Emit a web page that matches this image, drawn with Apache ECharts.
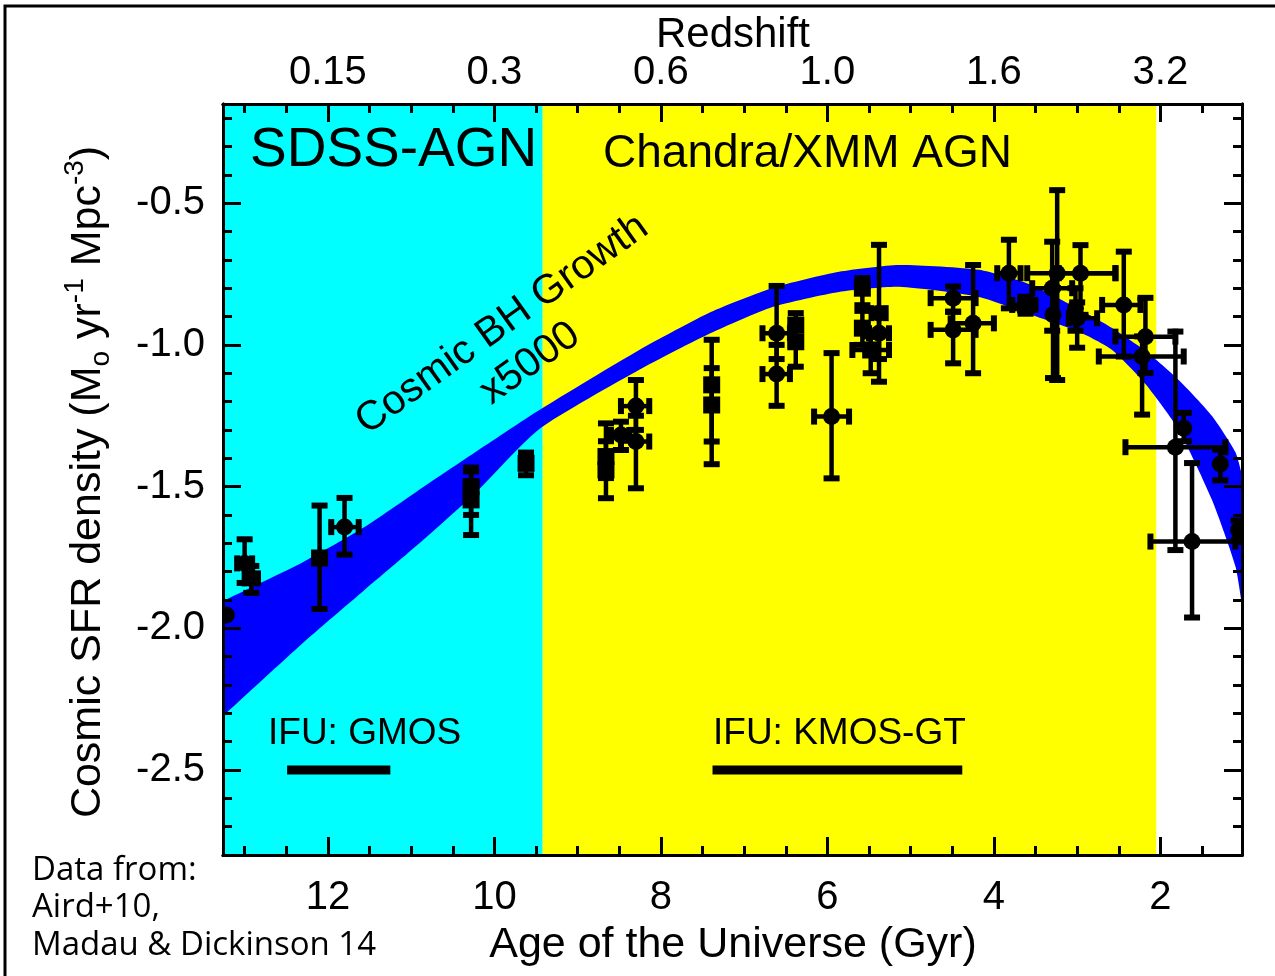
<!DOCTYPE html>
<html>
<head>
<meta charset="utf-8">
<script src="https://cdn.jsdelivr.net/npm/echarts@6/dist/echarts.min.js"></script>
<style>
html,body{margin:0;padding:0;background:#fff;}
#chart{width:1275px;height:976px;}
</style>
</head>
<body>
<div id="chart"></div>
<script>
// ---------------- DATA ----------------
// Axis ranges (age of the Universe, Gyr; log SFR density)
const ageRange = [1.02, 13.26];
const valRange = [-2.8, -0.15];
// tick labels
const ageTicks = [12, 10, 8, 6, 4, 2];
const redshiftLabels = ['0.15', '0.3', '0.6', '1.0', '1.6', '3.2'];
const valTicks = [-2.5, -2.0, -1.5, -1.0, -0.5];
// survey regions (age edges)
const sdssRegion = [13.26, 9.42];
const chandraRegion = [9.42, 2.05];
// Cosmic BH growth band (x5000); first and last entries continue just past the frame
const bandAge   = [13.50, 13.26, 12.30, 11.56, 10.94, 10.24, 9.46, 8.26, 7.40, 6.66, 5.86, 5.14, 4.18, 3.58, 2.98, 2.58, 2.18, 1.78, 1.38, 1.10, 1.02, 0.96];
const bandUpper = [-1.938, -1.904, -1.767, -1.643, -1.519, -1.381, -1.230, -1.018, -0.884, -0.799, -0.742, -0.718, -0.735, -0.785, -0.873, -0.940, -1.021, -1.124, -1.251, -1.378, -1.459, -1.530];
const bandLower = [-2.376, -2.310, -2.052, -1.865, -1.710, -1.526, -1.297, -1.088, -0.958, -0.866, -0.813, -0.795, -0.831, -0.891, -0.954, -1.018, -1.138, -1.300, -1.547, -1.780, -1.917, -2.030];
// SFR density points: [age, value, ageLeft, ageRight, valueLow, valueHigh]
const sfrCircles = [
  [13.22, -1.953, 13.22, 13.22, -1.953, -1.953],
  [13.00, -1.771, 13.09, 12.91, -1.840, -1.686],
  [12.92, -1.824, 13.00, 12.84, -1.875, -1.780],
  [11.80, -1.643, 11.96, 11.63, -1.740, -1.540],
  [8.48, -1.318, 8.60, 8.38, -1.371, -1.271],
  [8.30, -1.216, 8.48, 8.14, -1.300, -1.124],
  [8.30, -1.341, 8.48, 8.14, -1.506, -1.250],
  [6.61, -0.959, 6.78, 6.45, -1.050, -0.792],
  [6.61, -1.103, 6.78, 6.45, -1.215, -1.000],
  [5.95, -1.253, 6.16, 5.74, -1.471, -1.029],
  [5.38, -0.888, 5.47, 5.30, -1.130, -0.647],
  [5.38, -0.959, 5.50, 5.26, -1.050, -0.900],
  [4.49, -0.835, 4.76, 4.22, -0.883, -0.794],
  [4.49, -0.947, 4.76, 4.22, -1.065, -0.883],
  [4.25, -0.924, 4.52, 4.00, -1.100, -0.718],
  [3.82, -0.747, 3.96, 3.68, -0.871, -0.629],
  [3.24, -0.747, 3.60, 2.54, -1.124, -0.454],
  [3.30, -0.800, 3.54, 3.06, -0.950, -0.636],
  [3.29, -0.894, 3.29, 3.29, -1.117, -0.800],
  [2.96, -0.747, 3.22, 2.54, -0.894, -0.648],
  [3.02, -0.871, 3.02, 3.02, -0.950, -0.800],
  [3.00, -0.906, 3.10, 2.76, -1.010, -0.850],
  [2.44, -0.859, 2.70, 2.24, -1.041, -0.671],
  [2.18, -0.971, 2.54, 1.82, -1.099, -0.834],
  [2.22, -1.041, 2.74, 1.72, -1.246, -0.970],
  [1.72, -1.294, 1.72, 1.72, -1.340, -1.240],
  [1.82, -1.361, 2.42, 1.22, -1.724, -0.953],
  [1.62, -1.694, 2.12, 1.10, -1.962, -1.417],
  [1.28, -1.420, 1.28, 1.28, -1.478, -1.370],
  [1.06, -1.653, 1.06, 1.06, -1.690, -1.620]
];
const sfrSquares = [
  [12.10, -1.752, 12.10, 12.10, -1.932, -1.567],
  [10.28, -1.500, 10.28, 10.28, -1.600, -1.433],
  [10.28, -1.547, 10.28, 10.28, -1.671, -1.447],
  [9.62, -1.418, 9.62, 9.62, -1.460, -1.380],
  [8.66, -1.394, 8.66, 8.66, -1.470, -1.277],
  [8.66, -1.441, 8.66, 8.66, -1.541, -1.340],
  [7.39, -1.141, 7.39, 7.39, -1.341, -0.982],
  [7.39, -1.212, 7.39, 7.39, -1.421, -1.082],
  [6.38, -0.930, 6.38, 6.38, -1.000, -0.888],
  [6.38, -0.989, 6.38, 6.38, -1.077, -0.930],
  [5.58, -0.800, 5.58, 5.58, -0.860, -0.764],
  [5.58, -0.941, 5.58, 5.58, -1.000, -0.880],
  [5.48, -1.018, 5.70, 5.26, -1.100, -0.970],
  [3.62, -0.859, 3.78, 3.50, -0.890, -0.830]
];
// IFU coverage bars
const ifuLevel = -2.5;
const gmosAges = [12.49, 11.25];
const kmosAges = [7.38, 4.38];

// ---------------- CHART ----------------
const FONT = '"Liberation Sans", Arial, Helvetica, sans-serif';
const ageMinor = [];
for (let i = 3; i <= 26; i++) ageMinor.push(i * 0.5);
const valMinor = [];
for (let i = -27; i <= -2; i++) valMinor.push(+(i * 0.1).toFixed(1));

function xAxisDef(pos, ticks, len, labels) {
  return {
    type: 'value', position: pos, min: ageRange[0], max: ageRange[1], inverse: true, z: 5,
    axisLine: {show: true, onZero: false, lineStyle: {color: '#000', width: 3}},
    axisTick: {show: true, inside: true, length: len, customValues: ticks, lineStyle: {color: '#000', width: 3}},
    axisLabel: labels ? Object.assign({show: true, customValues: ageTicks, color: '#000', fontFamily: FONT, fontSize: 40}, labels) : {show: false},
    splitLine: {show: false}
  };
}
function yAxisDef(pos, ticks, len, labels) {
  return {
    type: 'value', position: pos, min: valRange[0], max: valRange[1], z: 5,
    axisLine: {show: true, onZero: false, lineStyle: {color: '#000', width: 3}},
    axisTick: {show: true, inside: true, length: len, customValues: ticks, lineStyle: {color: '#000', width: 3}},
    axisLabel: labels ? Object.assign({show: true, customValues: valTicks, color: '#000', fontFamily: FONT, fontSize: 40}, labels) : {show: false},
    splitLine: {show: false}
  };
}

function renderPoint(isSquare) {
  return function (params, api) {
    const age = api.value(0), v = api.value(1);
    const aL = api.value(2), aR = api.value(3), lo = api.value(4), hi = api.value(5);
    const c = api.coord([age, v]);
    const ch = [];
    const ln = {stroke: '#000', lineWidth: 4.5};
    const cap = {fill: '#000'};
    const pHi = api.coord([age, hi]), pLo = api.coord([age, lo]);
    if (Math.abs(pHi[1] - pLo[1]) > 1) {
      ch.push({type: 'line', shape: {x1: c[0], y1: pHi[1], x2: c[0], y2: pLo[1]}, style: ln});
      ch.push({type: 'rect', shape: {x: c[0] - 8, y: pHi[1] - 3, width: 16, height: 6}, style: cap});
      ch.push({type: 'rect', shape: {x: c[0] - 8, y: pLo[1] - 3, width: 16, height: 6}, style: cap});
    }
    const pL = api.coord([aL, v]), pR = api.coord([aR, v]);
    if (Math.abs(pL[0] - pR[0]) > 1) {
      ch.push({type: 'line', shape: {x1: pL[0], y1: c[1], x2: pR[0], y2: c[1]}, style: ln});
      ch.push({type: 'rect', shape: {x: pL[0] - 3, y: c[1] - 8, width: 6, height: 16}, style: cap});
      ch.push({type: 'rect', shape: {x: pR[0] - 3, y: c[1] - 8, width: 6, height: 16}, style: cap});
    }
    if (isSquare) {
      ch.push({type: 'rect', shape: {x: c[0] - 8.5, y: c[1] - 8.5, width: 17, height: 17}, style: {fill: '#000'}});
    } else {
      ch.push({type: 'circle', shape: {cx: c[0], cy: c[1], r: 8.5}, style: {fill: '#000'}});
    }
    return {type: 'group', children: ch};
  };
}

const chart = echarts.init(document.getElementById('chart'), null, {renderer: 'canvas'});
const option = {
  backgroundColor: '#fff',
  animation: false,
  grid: {left: 223, right: 33, top: 104, bottom: 121, containLabel: false},
  xAxis: [
    xAxisDef('bottom', ageTicks, 18, {margin: 23}),
    xAxisDef('bottom', ageMinor, 9, null),
    xAxisDef('top', ageTicks, 18, {margin: 11, formatter: v => redshiftLabels[ageTicks.indexOf(v)]}),
    xAxisDef('top', ageMinor, 9, null)
  ],
  yAxis: [
    yAxisDef('left', valTicks, 18, {margin: 18, formatter: v => v.toFixed(1)}),
    yAxisDef('left', valMinor, 9, null),
    yAxisDef('right', valTicks, 18, null),
    yAxisDef('right', valMinor, 9, null)
  ],
  series: [
    {
      type: 'line', name: 'GMOS', xAxisIndex: 0, yAxisIndex: 0, z: 2,
      data: gmosAges.map(a => [a, ifuLevel]), symbol: 'none',
      lineStyle: {color: '#000', width: 9, cap: 'butt'},
      markArea: {
        silent: true, z: 1,
        data: [
          [{xAxis: sdssRegion[0], itemStyle: {color: '#00ffff'}}, {xAxis: sdssRegion[1]}],
          [{xAxis: chandraRegion[0], itemStyle: {color: '#ffff00'}}, {xAxis: chandraRegion[1]}]
        ]
      }
    },
    {
      type: 'line', name: 'KMOS', xAxisIndex: 0, yAxisIndex: 0, z: 2,
      data: kmosAges.map(a => [a, ifuLevel]), symbol: 'none',
      lineStyle: {color: '#000', width: 9, cap: 'butt'}
    },
    {
      type: 'custom', name: 'band', xAxisIndex: 0, yAxisIndex: 0, z: 2, clip: true,
      data: bandAge.map((a, i) => [a, bandUpper[i], bandLower[i]]),
      encode: {x: 0, y: 1},
      renderItem: function (params, api) {
        if (params.dataIndex !== 0) return null;
        const pts = [];
        for (let i = 0; i < bandAge.length; i++) pts.push(api.coord([bandAge[i], bandUpper[i]]));
        for (let i = bandAge.length - 1; i >= 0; i--) pts.push(api.coord([bandAge[i], bandLower[i]]));
        return {type: 'polygon', shape: {points: pts, smooth: 0.2}, style: {fill: '#0000ff', stroke: null}};
      }
    },
    {
      type: 'custom', name: 'circles', xAxisIndex: 0, yAxisIndex: 0, z: 3, clip: true,
      data: sfrCircles, encode: {x: 0, y: 1}, renderItem: renderPoint(false)
    },
    {
      type: 'custom', name: 'squares', xAxisIndex: 0, yAxisIndex: 0, z: 3, clip: true,
      data: sfrSquares, encode: {x: 0, y: 1}, renderItem: renderPoint(true)
    }
  ],
  graphic: [
    {type: 'rect', z: 100, shape: {x: 5, y: 6, width: 1300, height: 1000}, style: {fill: null, stroke: '#000', lineWidth: 3}},
    {type: 'text', z: 100, x: 733, y: 35, style: {text: 'Redshift', font: '42px ' + FONT, fill: '#000', textAlign: 'center', textVerticalAlign: 'middle'}},
    {type: 'text', z: 100, x: 733, y: 945, style: {text: 'Age of the Universe (Gyr)', font: '43px ' + FONT, fill: '#000', textAlign: 'center', textVerticalAlign: 'middle'}},
    {type: 'text', z: 100, x: 88, y: 482, rotation: Math.PI / 2,
      style: {
        text: '{a|Cosmic SFR density (M}{sub|o}{a| yr}{sup|-1}{a| Mpc}{sup|-3}{a|)}',
        fill: '#000', textAlign: 'center', textVerticalAlign: 'middle',
        rich: {
          a: {fontSize: 43, fontFamily: FONT, lineHeight: 54, fill: '#000'},
          sub: {fontSize: 28, fontFamily: FONT, verticalAlign: 'bottom', fill: '#000'},
          sup: {fontSize: 28, fontFamily: FONT, verticalAlign: 'top', fill: '#000'}
        }
      }},
    {type: 'text', z: 100, x: 32, y: 908, style: {text: 'Data from:\nAird+10,\nMadau & Dickinson 14', font: '33px "Open Sans", sans-serif', lineHeight: 37.5, fill: '#000', textAlign: 'left', textVerticalAlign: 'middle'}},
    {type: 'text', z: 100, x: 250, y: 151, style: {text: 'SDSS-AGN', font: '55px ' + FONT, fill: '#000', textAlign: 'left', textVerticalAlign: 'middle'}},
    {type: 'text', z: 100, x: 603, y: 154, style: {text: 'Chandra/XMM AGN', font: '46px ' + FONT, fill: '#000', textAlign: 'left', textVerticalAlign: 'middle'}},
    {type: 'text', z: 100, x: 516, y: 344, rotation: 35.6 * Math.PI / 180,
      style: {text: 'Cosmic BH Growth\nx5000', font: '41px ' + FONT, lineHeight: 48, fill: '#000', textAlign: 'center', textVerticalAlign: 'middle'}},
    {type: 'text', z: 100, x: 268, y: 734, style: {text: 'IFU: GMOS', font: '37px ' + FONT, fill: '#000', textAlign: 'left', textVerticalAlign: 'middle'}},
    {type: 'text', z: 100, x: 713, y: 734, style: {text: 'IFU: KMOS-GT', font: '37px ' + FONT, fill: '#000', textAlign: 'left', textVerticalAlign: 'middle'}}
  ]
};
chart.setOption(option);
</script>
</body>
</html>
